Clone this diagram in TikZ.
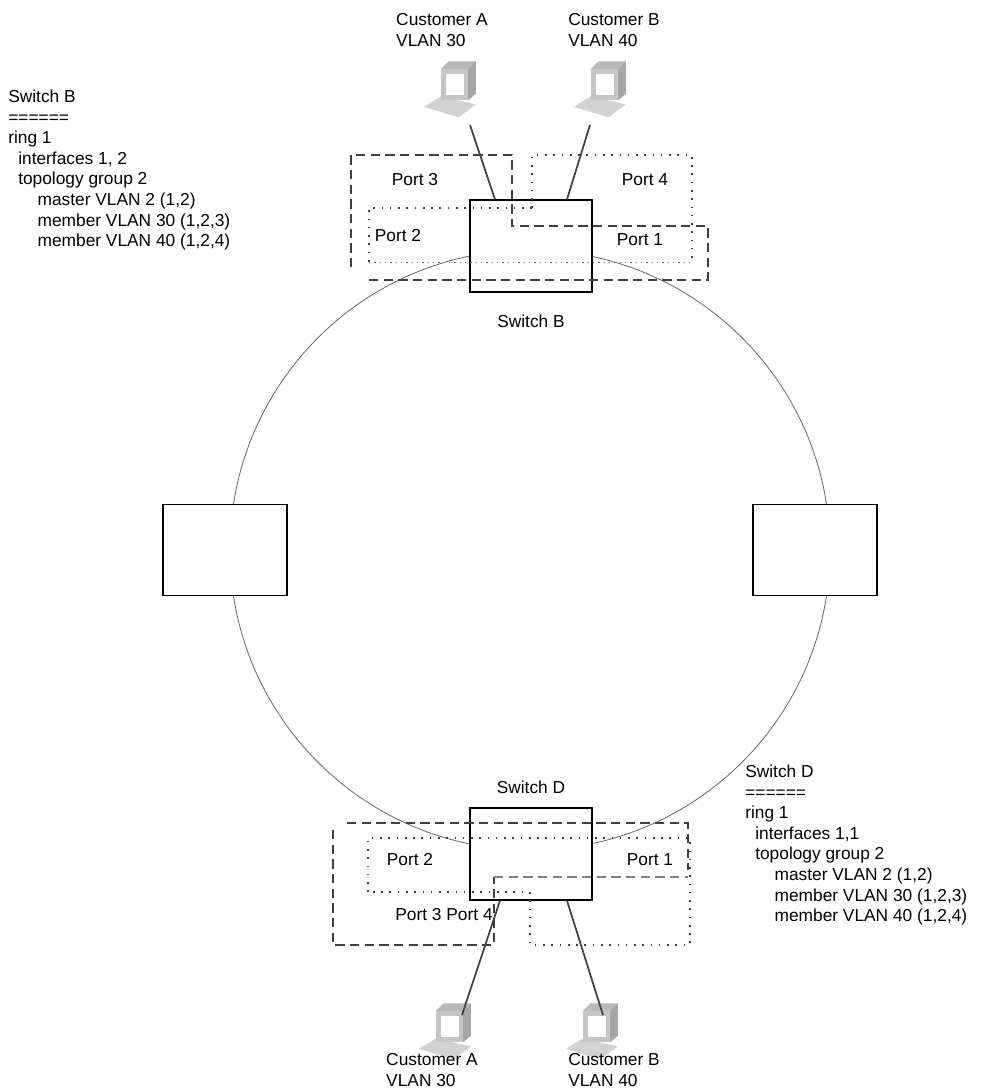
\documentclass[tikz,border=0pt]{standalone}
\usepackage{fontspec}
\setmainfont{Liberation Sans}
\begin{document}
\begin{tikzpicture}[x=0.75pt,y=-0.75pt,font=\fontsize{13}{15.4}\selectfont]
    \tikzstyle{switch}=[draw, line width=0.9pt, inner sep=0pt]
    \tikzstyle{dash group}=[draw=black!75, line width=1.3pt, dash pattern=on 7pt off 4pt]
    \tikzstyle{dot group}=[draw=black!75, line width=1.5pt, dash pattern=on 1.2pt off 5pt]
    \tikzstyle{link}=[draw=black!75, line width=1.3pt]
    \tikzstyle{annot}=[align=left, anchor=north west, inner sep=0pt]
    \tikzset{pc/.pic={
        \begin{scope}[scale=1.3]
        \fill[gray!35] (-24,13) -- (-11,5) -- (16,11) -- (3,21) -- cycle;
        \fill[gray!55] (-11,-16) -- (-5,-22) -- (16,-22) -- (10,-16) -- cycle;
        \fill[gray!70] (10,-16) -- (16,-22) -- (16,3) -- (10,8) -- cycle;
        \fill[gray!45] (-11,-16) rectangle (10,8);
        \fill[white] (-7,-12) rectangle (7,4);
        \end{scope}}}
    \useasboundingbox (0,0) rectangle (1006,1090);

    % Ring
    \draw[black!60, line width=0.6pt] (530,550) circle[radius=300];

    % Switches
    \node[switch, fill=white, minimum width=91.5pt, minimum height=69pt] (SB) at (531,246) {};
    \node[switch, fill=white, minimum width=91.5pt, minimum height=69pt] (SD) at (531,854) {};
    \node[switch, fill=white, minimum width=93pt, minimum height=68pt] (SL) at (225,550) {};
    \node[switch, fill=white, minimum width=93pt, minimum height=68pt] (SR) at (815,550) {};
    \node (SBlab) at (531,321) {Switch B};
    \node (SDlab) at (531,787) {Switch D};

    % Port groups of switch B
    \draw[dash group] (369,280) -- (708,280) -- (708,226) -- (512,226) -- (512,155) -- (351,155) -- (351,270);
    \draw[dot group] (532,208) -- (532,155) -- (692,155) -- (692,262);
    \draw[dot group] (532,208) -- (369,208) -- (369,262);
    \draw[black!60, dash pattern=on 1pt off 3pt] (369,262) -- (692,262);
    \node (B3) at (415,180) {Port 3};
    \node (B4) at (645,180) {Port 4};
    \node (B2) at (398,236) {Port 2};
    \node (B1) at (640,240) {Port 1};

    % Port groups of switch D
    \draw[dash group] (347,823) -- (688,823) -- (688,870);
    \draw[dash group] (333,830) -- (333,945) -- (494,945) -- (494,877);
    \draw[black!50, line width=1pt, dash pattern=on 7pt off 4pt] (494,877) -- (688,877);
    \draw[dot group] (368,892) -- (368,838) -- (690,838) -- (690,945) -- (530,945) -- (530,892) -- cycle;
    \node (D2) at (410,860) {Port 2};
    \node (D1) at (650,860) {Port 1};
    \node (D34) at (444,915) {Port 3 Port 4};

    % Customers
    \pic at (455,90) {pc};
    \pic at (605,90) {pc};
    \pic at (450,1032) {pc};
    \pic at (597,1032) {pc};
    \coordinate (PA) at (470,125);
    \coordinate (PB) at (590,125);
    \coordinate (PC) at (462,1015);
    \coordinate (PD) at (603,1015);
    \node[align=left] (CA) at (442,30) {Customer A\\VLAN 30};
    \node[align=left] (CB) at (614,30) {Customer B\\VLAN 40};
    \node[align=left] (CC) at (432,1070) {Customer A\\VLAN 30};
    \node[align=left] (CD) at (614,1070) {Customer B\\VLAN 40};
    \draw[link] (PA) -- (SB.north west -| 495,0);
    \draw[link] (PB) -- (SB.north west -| 567,0);
    \draw[link] (PC) -- (SD.south west -| 500,0);
    \draw[link] (PD) -- (SD.south west -| 567,0);

    % Configurations
    \node[annot] (cfgB) at (8,90) {Switch B\\======\\ring 1\\\hspace*{7.5pt}interfaces 1, 2\\\hspace*{7.5pt}topology group 2\\\hspace*{22pt}master VLAN 2 (1,2)\\\hspace*{22pt}member VLAN 30 (1,2,3)\\\hspace*{22pt}member VLAN 40 (1,2,4)};
    \node[annot] (cfgD) at (745,765) {Switch D\\======\\ring 1\\\hspace*{7.5pt}interfaces 1,1\\\hspace*{7.5pt}topology group 2\\\hspace*{22pt}master VLAN 2 (1,2)\\\hspace*{22pt}member VLAN 30 (1,2,3)\\\hspace*{22pt}member VLAN 40 (1,2,4)};
\end{tikzpicture}
\end{document}
